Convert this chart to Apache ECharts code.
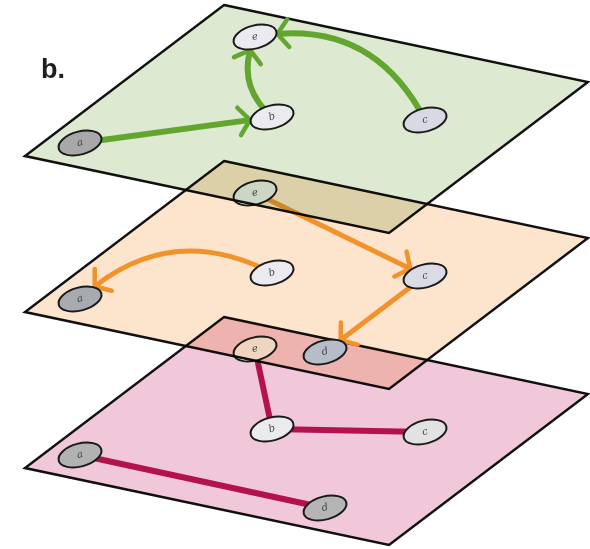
<!DOCTYPE html>
<html>
<head>
<meta charset="utf-8">
<script src="https://cdn.jsdelivr.net/npm/echarts@6/dist/echarts.min.js"></script>
<style>
html,body{margin:0;padding:0;background:#fff;}
#chart{width:590px;height:549px;}
</style>
</head>
<body>
<div id="chart"></div>
<script>
// plane corners (top, right, bottom, left) of the first layer
var planeX = [224, 588, 389, 25];
var planeY = [5, 82, 233, 156];
// vertical shift of each layer: green, orange, pink
var layerOffsets = [0, 156, 312];

// node positions on a layer
var nodeNames = ['a', 'b', 'c', 'd', 'e'];
var nodeX = [80, 272, 425, 325, 255];
var nodeY = [143, 117, 120, 196, 37];

var greenNodes = ['a', 'b', 'c', 'e'];
var orangeNodes = ['a', 'b', 'c', 'd', 'e'];
var pinkNodes = ['a', 'b', 'c', 'd', 'e'];

// [from, to, bend]
var greenEdges = [['a', 'b', 0], ['b', 'e', -30], ['c', 'e', 70]];
var orangeEdges = [['b', 'a', 68], ['e', 'c', 0], ['c', 'd', 0]];
var pinkEdges = [['e', 'b', 0], ['b', 'c', 0], ['a', 'd', 0]];

// styles
var planeColors = ['#dde9d1', '#fde4cd', '#f1c8da'];
var edgeColors = ['#62a62f', '#f2922a', '#b3124e'];
var edgeWidths = [6, 5, 6];
var directed = [1, 1, 0];
var nodeFills = [
    {a: '#a8a8a8', b: '#ebebef', c: '#d9d9e6', e: '#ebebef'},
    {a: '#a7abb1', b: '#ebebef', c: '#dadbe5', d: '#b6bdc9', e: '#ebebef'},
    {a: '#b2b2b2', b: '#ebebef', c: '#e2e2e2', d: '#b5b5b5', e: '#efefef'}
];
var RX = 22, RY = 11.5, TILT = 0.26;

var layerNodes = [greenNodes, orangeNodes, pinkNodes];
var layerEdges = [greenEdges, orangeEdges, pinkEdges];

var planeData = [[0], [1], [2]];
var nodeData = [];
var edgeData = [];
layerNodes.forEach(function(list, L){
    list.forEach(function(n){ nodeData.push([L, nodeNames.indexOf(n)]); });
});
layerEdges.forEach(function(list, L){
    list.forEach(function(e){
        edgeData.push([L, nodeNames.indexOf(e[0]), nodeNames.indexOf(e[1]), e[2]]);
    });
});

function inEllipse(p, c){
    var dx = p[0] - c[0], dy = p[1] - c[1];
    var ca = Math.cos(-TILT), sa = Math.sin(-TILT);
    var u = dx * ca + dy * sa;
    var v = -dx * sa + dy * ca;
    var rx = RX + 1.5, ry = RY + 1.5;
    return (u * u) / (rx * rx) + (v * v) / (ry * ry) <= 1;
}

function quad(p0, p1, p2, t){
    var s = 1 - t;
    return [s * s * p0[0] + 2 * s * t * p1[0] + t * t * p2[0],
            s * s * p0[1] + 2 * s * t * p1[1] + t * t * p2[1]];
}

function renderPlane(params, api){
    var L = api.value(0);
    var off = layerOffsets[L];
    var pts = planeX.map(function(x, i){ return api.coord([x, planeY[i] + off]); });
    return {
        type: 'polygon',
        name: 'plane',
        z2: (2 - L) * 10,
        shape: {points: pts},
        style: {fill: planeColors[L], stroke: '#111', lineWidth: 2.5, lineJoin: 'miter', blend: 'multiply'}
    };
}

function renderEdge(params, api){
    var L = api.value(0), f = api.value(1), t = api.value(2), bend = api.value(3);
    var off = layerOffsets[L];
    var p0 = api.coord([nodeX[f], nodeY[f] + off]);
    var p2 = api.coord([nodeX[t], nodeY[t] + off]);
    var dx = p2[0] - p0[0], dy = p2[1] - p0[1], len = Math.sqrt(dx * dx + dy * dy);
    var nx = -dy / len, ny = dx / len;
    var p1 = [(p0[0] + p2[0]) / 2 + nx * bend, (p0[1] + p2[1]) / 2 + ny * bend];
    var col = edgeColors[L];
    var z = (2 - L) * 10 + 1;
    var tEnd = 1;
    if (directed[L]) {
        while (tEnd > 0.5 && inEllipse(quad(p0, p1, p2, tEnd), p2)) tEnd -= 0.004;
    }
    var a = [p0[0] + (p1[0] - p0[0]) * tEnd, p0[1] + (p1[1] - p0[1]) * tEnd];
    var b = quad(p0, p1, p2, tEnd);
    var children = [{
        type: 'bezierCurve',
        z2: z,
        shape: {x1: p0[0], y1: p0[1], x2: b[0], y2: b[1], cpx1: a[0], cpy1: a[1]},
        style: {stroke: col, lineWidth: edgeWidths[L], fill: null}
    }];
    if (directed[L]) {
        var tx = 2 * (1 - tEnd) * (p1[0] - p0[0]) + 2 * tEnd * (p2[0] - p1[0]);
        var ty = 2 * (1 - tEnd) * (p1[1] - p0[1]) + 2 * tEnd * (p2[1] - p1[1]);
        var tl = Math.sqrt(tx * tx + ty * ty);
        tx /= tl; ty /= tl;
        var ang = 0.95, al = 17;
        var arm = function(s){
            var c = Math.cos(s * ang), sn = Math.sin(s * ang);
            var bx = -tx, by = -ty;
            return [b[0] + al * (bx * c - by * sn), b[1] + al * (bx * sn + by * c)];
        };
        children.push({
            type: 'polyline',
            z2: z,
            shape: {points: [arm(1), [b[0] + tx, b[1] + ty], arm(-1)]},
            style: {stroke: col, lineWidth: 4.5, fill: null, lineJoin: 'round', lineCap: 'round'}
        });
    }
    return {type: 'group', children: children};
}

function renderNode(params, api){
    var L = api.value(0), n = api.value(1);
    var off = layerOffsets[L];
    var p = api.coord([nodeX[n], nodeY[n] + off]);
    var z = (2 - L) * 10 + 2;
    return {
        type: 'group',
        children: [{
            type: 'ellipse',
            z2: z,
            x: p[0], y: p[1], rotation: TILT,
            shape: {cx: 0, cy: 0, rx: RX, ry: RY},
            style: {fill: nodeFills[L][nodeNames[n]], stroke: '#1a1a1a', lineWidth: 2}
        }, {
            type: 'text',
            z2: z + 1,
            x: p[0], y: p[1], rotation: TILT,
            style: {
                text: nodeNames[n], x: 0, y: 0,
                fill: '#444', fontSize: 10, fontStyle: 'italic',
                fontFamily: 'DejaVu Serif', align: 'center', verticalAlign: 'middle'
            }
        }]
    };
}

var myChart = echarts.init(document.getElementById('chart'));
var option = {
    backgroundColor: '#fff',
    animation: false,
    title: {
        text: 'b.',
        left: 36,
        top: 52,
        textStyle: {fontSize: 27, fontWeight: 'bold', fontFamily: 'Liberation Sans', color: '#1e1e1e'}
    },
    grid: {left: 0, right: 0, top: 0, bottom: 0},
    xAxis: {type: 'value', min: 0, max: 590, show: false},
    yAxis: {type: 'value', min: 0, max: 549, inverse: true, show: false},
    series: [
        {type: 'custom', name: 'planes', coordinateSystem: 'cartesian2d', renderItem: renderPlane, data: planeData, silent: true},
        {type: 'custom', name: 'edges', coordinateSystem: 'cartesian2d', renderItem: renderEdge, data: edgeData, silent: true},
        {type: 'custom', name: 'nodes', coordinateSystem: 'cartesian2d', renderItem: renderNode, data: nodeData, silent: true}
    ]
};
myChart.setOption(option);

// planes overlap like transparencies: multiply them onto what lies below
var zr = myChart.getZr();
zr.storage.getDisplayList(true).forEach(function(el){
    if (el.name === 'plane') {
        el.style.blend = 'multiply';
        el.dirty();
    }
});
zr.refreshImmediately();
</script>
</body>
</html>
